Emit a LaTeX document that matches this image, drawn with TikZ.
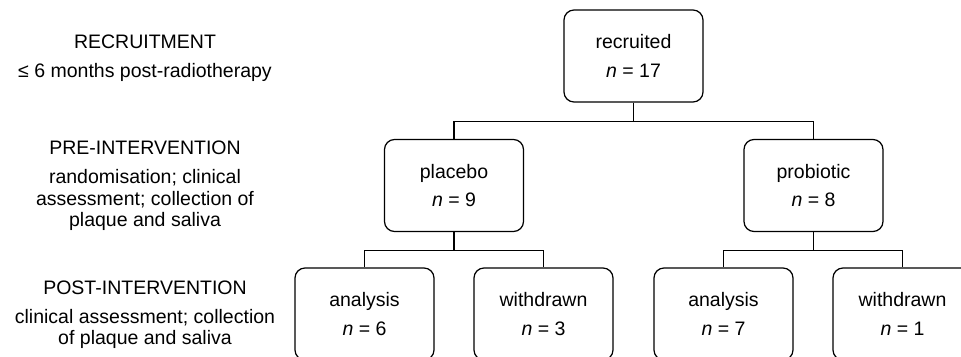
\documentclass[tikz,border=0pt]{standalone}
\usepackage{fontspec}
\setmainfont{Liberation Sans}
\usetikzlibrary{positioning}
\newcommand\stagefont{\fontsize{11.1}{16.4}\selectfont}
\newcommand\notefont{\fontsize{11.1}{12.1}\selectfont}
\tikzset{
  group/.style={rectangle, draw, line width=0.7pt, rounded corners=0.2cm,
    minimum width=2.78cm, minimum height=1.84cm, align=center, font=\stagefont},
  phase/.style={inner sep=0pt, font=\notefont},
  phasenote/.style={inner sep=0pt, align=center, font=\notefont},
  link/.style={line width=0.7pt}
}

\begin{document}
\begin{tikzpicture}
\useasboundingbox (0,0) rectangle (19.22,-7.12);
% stage labels on the left
\node[phase] (hrec) at (2.9,-0.84) {RECRUITMENT};
\node[phasenote] (nrec) at (2.9,-1.44) {≤ 6 months post-radiotherapy};
\node[phase] (hpre) at (2.9,-2.96) {PRE-INTERVENTION};
\node[phasenote] (npre) at (2.9,-4.0) {randomisation; clinical\\assessment; collection of\\plaque and saliva};
\node[phase] (hpost) at (2.9,-5.76) {POST-INTERVENTION};
\node[phasenote] (npost) at (2.9,-6.58) {clinical assessment; collection\\of plaque and saliva};
%
%
% boxes
\node[group] (recruited) at (12.67,-1.12) {recruited\\\textit{n} = 17};
\node[group] (placebo) at (9.08,-3.71) {placebo\\\textit{n} = 9};
\node[group] (probiotic) at (16.27,-3.71) {probiotic\\\textit{n} = 8};
\node[group] (plaana) at (7.29,-6.28) {analysis\\\textit{n} = 6};
\node[group] (plawd) at (10.87,-6.28) {withdrawn\\\textit{n} = 3};
\node[group] (proana) at (14.47,-6.28) {analysis\\\textit{n} = 7};
\node[group] (prowd) at (18.05,-6.28) {withdrawn\\\textit{n} = 1};
%
%
% connectors
\draw[link] (recruited.south) -- ++(0,-0.38) -| (placebo.north);
\draw[link] (recruited.south) -- ++(0,-0.38) -| (probiotic.north);
\draw[link] (placebo.south) -- ++(0,-0.36) -| (plaana.north);
\draw[link] (placebo.south) -- ++(0,-0.36) -| (plawd.north);
\draw[link] (probiotic.south) -- ++(0,-0.36) -| (proana.north);
\draw[link] (probiotic.south) -- ++(0,-0.36) -| (prowd.north);
\end{tikzpicture}
\end{document}
